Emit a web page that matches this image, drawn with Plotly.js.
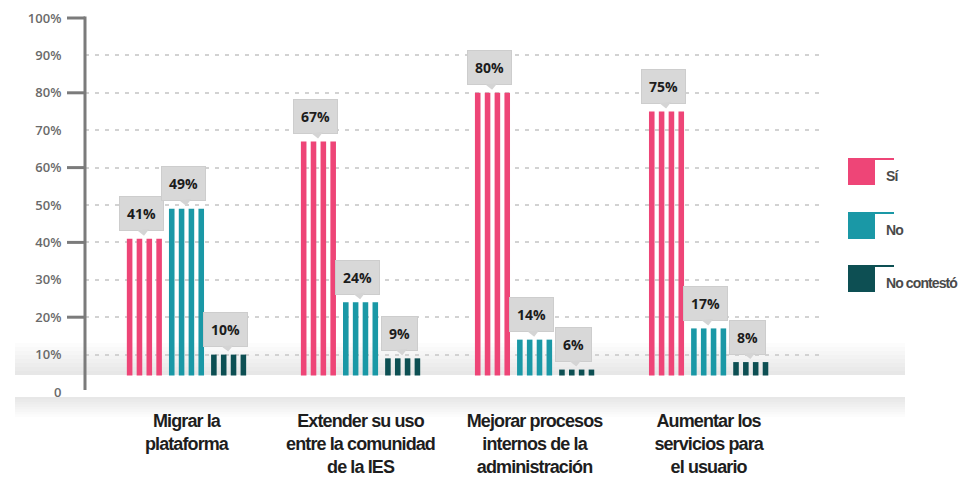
<!DOCTYPE html>
<html><head><meta charset="utf-8">
<script src="https://cdn.plot.ly/plotly-3.0.1.min.js"></script>
<style>
html,body{margin:0;padding:0;background:#fff}
#chart{width:966px;height:482px}
text[style*="Liberation"]{letter-spacing:-0.9px}
</style>
</head><body><div id="chart"></div>
<script>
// ---- data ----
const categories = ['Migrar la<br>plataforma', 'Extender su uso<br>entre la comunidad<br>de la IES', 'Mejorar procesos<br>internos de la<br>administración', 'Aumentar los<br>servicios para<br>el usuario'];
const seriesNames = ['Sí', 'No', 'No contestó'];
const siValues = [41, 67, 80, 75];
const noValues = [49, 24, 14, 17];
const noContestoValues = [10, 9, 6, 8];
const yTickVals = [0, 10, 20, 30, 40, 50, 60, 70, 80, 90, 100];
const yTickText = ['0', '10%', '20%', '30%', '40%', '50%', '60%', '70%', '80%', '90%', '100%'];

// ---- styling ----
const colors = ['#ee4577', '#1a98a6', '#0d4f53'];
const series = [siValues, noValues, noContestoValues];
const yRange = [0, 100];
const xRange = [-0.583, 3.64];
const seriesPitch = 0.242, stripePitch = 0.0565, stripeW = 0.032, groupStart = -0.3426;
const condensed = '"Liberation Sans", Arial, sans-serif';
const W = 966, H = 482, mL = 85, mR = 146, mT = 18, mB = 90;
const plotW = W - mL - mR, plotH = H - mT - mB;
const px2x = p => (p - mL) / plotW;           // pixel -> paper x
const py2y = p => (H - mB - p) / plotH;       // pixel -> paper y
const v2y = v => (v - yRange[0]) / (yRange[1] - yRange[0]);

const traces = [];
series.forEach((vals, s) => {
  for (let k = 0; k < 4; k++) {
    traces.push({
      type: 'bar', x: categories, y: vals, name: seriesNames[s],
      width: stripeW, offset: groupStart + s * seriesPitch + k * stripePitch,
      marker: {color: colors[s], line: {width: 0}},
      showlegend: false, hoverinfo: 'skip'
    });
  }
});

const shapes = [];
// soft floor gradient behind bars
const upSteps = 8;
for (let i = 0; i < upSteps; i++) {
  shapes.push({type: 'rect', layer: 'below', xref: 'paper', yref: 'paper',
    x0: px2x(15), x1: px2x(905), y0: py2y(375), y1: py2y(375 - (i + 1) * 4),
    fillcolor: 'rgba(0,0,0,0.011)', line: {width: 0}});
}
// white floor strip covering bar bottoms
shapes.push({type: 'rect', layer: 'above', xref: 'paper', yref: 'paper',
  x0: px2x(72), x1: px2x(966), y0: py2y(396), y1: py2y(375.5), fillcolor: '#ffffff', line: {width: 0}});
// shadow below the floor
const dnSteps = 8;
for (let i = 0; i < dnSteps; i++) {
  shapes.push({type: 'rect', layer: 'above', xref: 'paper', yref: 'paper',
    x0: px2x(15), x1: px2x(905), y0: py2y(397 + (i + 1) * 2.5), y1: py2y(397),
    fillcolor: 'rgba(0,0,0,0.011)', line: {width: 0}});
}
// y axis line
shapes.push({type: 'line', layer: 'above', xref: 'paper', yref: 'paper',
  x0: 0, x1: 0, y0: py2y(390), y1: v2y(100) + 1.5 / plotH, line: {color: '#7b7b7b', width: 3}});
// major tick marks every 20
yTickVals.filter(v => v > 0 && v % 20 === 0).forEach(v => {
  shapes.push({type: 'line', layer: 'above', xref: 'paper', yref: 'paper',
    x0: px2x(67), x1: 0, y0: v2y(v), y1: v2y(v), line: {color: '#7b7b7b', width: 3}});
});

const annotations = [];
// value bubbles
series.forEach((vals, s) => {
  vals.forEach((v, i) => {
    annotations.push({
      x: i + (s - 1) * seriesPitch, y: v, xref: 'x', yref: 'y',
      text: '<b>' + v + '%</b>', showarrow: true, ax: -3, ay: -25,
      arrowhead: 1, arrowsize: 1, arrowwidth: 2, arrowcolor: '#d4d4d4', standoff: 3,
      bgcolor: '#d8d8d8', bordercolor: '#cdcdcd', borderwidth: 1, borderpad: 7,
      font: {family: '"Open Sans", sans-serif', size: 14, color: '#1c1c1c'}
    });
  });
});

// legend (custom)
const legendTops = [158, 212, 265];
seriesNames.forEach((n, s) => {
  const t = legendTops[s];
  shapes.push({type: 'rect', layer: 'above', xref: 'paper', yref: 'paper',
    x0: px2x(848), x1: px2x(875), y0: py2y(t + 27), y1: py2y(t), fillcolor: colors[s], line: {width: 0}});
  shapes.push({type: 'line', layer: 'above', xref: 'paper', yref: 'paper',
    x0: px2x(875), x1: px2x(894), y0: py2y(t + 1), y1: py2y(t + 1), line: {color: colors[s], width: 2}});
  annotations.push({xref: 'paper', yref: 'paper', x: px2x(884), y: py2y(t + 18),
    xanchor: 'left', yanchor: 'middle', showarrow: false, text: '<b>' + n + '</b>',
    font: {family: condensed, size: 14, color: '#4a4a4a'}});
});

const layout = {
  width: W, height: H,
  margin: {l: mL, r: mR, t: mT, b: mB, pad: 0},
  paper_bgcolor: '#ffffff', plot_bgcolor: 'rgba(0,0,0,0)',
  barmode: 'overlay', showlegend: false,
  xaxis: {type: 'category', range: xRange, showgrid: false, zeroline: false, showline: false,
    ticks: 'outside', ticklen: 12, tickcolor: 'rgba(0,0,0,0)',
    tickfont: {family: condensed, size: 18, color: '#1e1e1e', weight: 'bold'}},
  yaxis: {range: yRange, tickvals: yTickVals, ticktext: yTickText,
    showgrid: true, gridcolor: '#d2d2d2', gridwidth: 2, griddash: '4px,6px',
    zeroline: false, showline: false,
    ticks: 'outside', ticklen: 20, tickcolor: 'rgba(0,0,0,0)',
    tickfont: {family: '"Open Sans", sans-serif', size: 13, color: '#6a6a6a', weight: 600}},
  shapes: shapes, annotations: annotations
};

Plotly.newPlot('chart', traces, layout, {staticPlot: true, displayModeBar: false});
</script></body></html>
